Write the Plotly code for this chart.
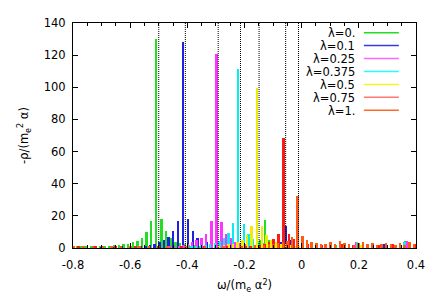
import plotly.graph_objects as go

# ---------------- data ----------------
series_names = ["λ=0.", "λ=0.1", "λ=0.25", "λ=0.375", "λ=0.5", "λ=0.75", "λ=1."]
series_colors = ["#22dd22", "#2020e0", "#ff33ff", "#00f0f0", "#eeee00", "#ff1a1a", "#ff5a14"]
legend_colors = ["#22dd22", "#3a3ad8", "#ff66ff", "#22ffff", "#f5f522", "#ff7777", "#ff6a2a"]

# lobe centres (omega) and lobe heights (-rho)
w_l0 = [-0.799, -0.785, -0.769, -0.753, -0.736, -0.720, -0.704, -0.688, -0.671, -0.655,
        -0.639, -0.623, -0.606, -0.590, -0.574, -0.558, -0.542, -0.526, -0.508, -0.490,
        -0.474, -0.458, -0.441, -0.425, -0.409, -0.393, -0.376, -0.360, -0.344,
        -0.145, -0.128, -0.112, 0.120, 0.250, 0.364]
h_l0 = [0.8, 0.8, 0.9, 1.0, 1.0, 1.1, 1.2, 1.3, 1.5, 1.7,
        2.0, 2.3, 2.8, 3.5, 4.6, 6.4, 10.0, 17.0, 130.0, 18.0,
        10.5, 6.0, 4.0, 3.0, 2.5, 2.0, 1.8, 1.5, 1.3,
        5.0, 17.5, 5.0, 2.0, 2.5, 4.5]

w_l1 = [-0.700, -0.660, -0.630, -0.600, -0.579, -0.562, -0.546, -0.530, -0.514, -0.497,
        -0.481, -0.465, -0.449, -0.432, -0.414, -0.396, -0.380, -0.363, -0.347, -0.331,
        -0.315, -0.298, -0.282, -0.266, -0.070, -0.054, -0.038, 0.150, 0.290, 0.330]
h_l1 = [0.5, 0.6, 0.7, 0.8, 1.0, 1.2, 1.4, 1.8, 2.5, 3.8,
        5.0, 7.0, 10.5, 17.0, 128.4, 18.0, 10.5, 6.5, 5.0, 3.5,
        2.8, 2.2, 1.8, 1.5, 4.0, 14.0, 5.0, 2.0, 2.5, 2.0]

w_l2 = [-0.460, -0.445, -0.429, -0.412, -0.396, -0.383, -0.367, -0.350, -0.333, -0.315,
        -0.297, -0.279, -0.263, -0.247, -0.230, -0.214, -0.198, -0.182, -0.165, -0.149,
        0.190, 0.250, 0.370]
h_l2 = [1.0, 1.2, 1.5, 1.8, 2.2, 3.5, 5.0, 6.0, 9.0, 17.0,
        120.5, 16.0, 9.0, 6.0, 4.0, 3.0, 2.5, 2.0, 1.7, 1.4,
        4.0, 3.0, 4.5]

w_l3 = [-0.385, -0.368, -0.352, -0.336, -0.320, -0.303, -0.287, -0.271, -0.255, -0.239,
        -0.221, -0.201, -0.185, -0.169, -0.152, -0.136, -0.120, -0.104, -0.087, -0.071,
        0.195, 0.360]
h_l3 = [1.1, 1.3, 1.6, 2.0, 2.6, 3.3, 4.5, 6.0, 9.5, 15.5,
        111.5, 15.0, 8.5, 5.5, 4.0, 3.0, 2.4, 2.0, 1.7, 1.4,
        4.0, 4.0]

w_l4 = [-0.288, -0.271, -0.255, -0.239, -0.223, -0.206, -0.190, -0.174, -0.156, -0.138,
        -0.122, -0.106, -0.089, -0.073, -0.057, -0.040, -0.024, -0.008, 0.210, 0.300]
h_l4 = [1.5, 1.8, 2.2, 2.7, 3.5, 5.0, 8.0, 14.0, 99.8, 14.0,
        8.0, 5.0, 3.5, 2.7, 2.2, 1.8, 1.5, 1.3, 2.0, 2.0]

w_l5 = [-0.780, -0.720, -0.650, -0.580, -0.500, -0.420, -0.340, -0.260, -0.210, -0.194,
        -0.178, -0.162, -0.145, -0.129, -0.113, -0.097, -0.080, -0.062, -0.044, -0.028,
        -0.011, 0.005, 0.021, 0.037, 0.054, 0.070, 0.100, 0.140, 0.180, 0.230,
        0.270, 0.320, 0.360, 0.395]
h_l5 = [0.8, 0.8, 0.9, 0.9, 1.0, 1.0, 1.0, 1.0, 1.0, 1.2,
        1.3, 1.6, 2.0, 2.5, 3.5, 5.5, 9.0, 68.2, 8.5, 5.5,
        3.5, 2.8, 2.3, 2.0, 1.8, 1.6, 2.0, 2.5, 2.0, 2.5,
        2.0, 2.5, 2.0, 2.5]

w_l6 = [-0.795, -0.762, -0.729, -0.696, -0.664, -0.631, -0.598, -0.566, -0.533, -0.468,
        -0.403, -0.338, -0.273, -0.208, -0.162, -0.130, -0.113, -0.097, -0.081, -0.064,
        -0.048, -0.032, -0.014, 0.004, 0.020, 0.036, 0.053, 0.069, 0.085, 0.101,
        0.118, 0.134, 0.150, 0.166, 0.183, 0.199, 0.215, 0.231, 0.248, 0.264,
        0.280, 0.296, 0.313, 0.329, 0.345, 0.361, 0.378, 0.394]
h_l6 = [1.0, 1.0, 1.0, 1.0, 1.0, 1.0, 1.0, 1.0, 1.0, 1.0,
        1.1, 1.2, 1.3, 1.5, 1.8, 2.0, 2.2, 2.5, 3.0, 3.5,
        4.5, 7.0, 32.4, 7.4, 5.0, 3.5, 3.0, 2.5, 2.5, 4.0,
        2.5, 4.2, 3.0, 2.5, 2.0, 3.0, 3.5, 2.5, 3.0, 2.0,
        2.5, 3.0, 2.5, 2.0, 3.0, 2.0, 3.5, 2.5]

series_w = [w_l0, w_l1, w_l2, w_l3, w_l4, w_l5, w_l6]
series_h = [h_l0, h_l1, h_l2, h_l3, h_l4, h_l5, h_l6]

# dotted reference energies
ref_energies = [-0.500, -0.407, -0.292, -0.214, -0.149, -0.056, -0.011]

x_ticks = [-0.8, -0.6, -0.4, -0.2, 0.0, 0.2, 0.4]
x_ticktext = ["-0.8", "-0.6", "-0.4", "-0.2", "0", "0.2", "0.4"]
y_ticks = [0, 20, 40, 60, 80, 100, 120, 140]
y_ticktext = ["0", "20", "40", "60", "80", "100", "120", "140"]

# ---------------- figure ----------------
FONT = "DejaVu Sans, Verdana, sans-serif"
FS = 11.5
fig = go.Figure()

for name, col, w, h in zip(series_names, series_colors, series_w, series_h):
    fig.add_trace(go.Bar(x=w, y=h, name=name, width=0.0068,
                         marker=dict(color=col, line=dict(width=0)),
                         showlegend=False))

for e in ref_energies:
    fig.add_shape(type="line", xref="x", yref="y", x0=e, x1=e, y0=0, y1=140,
                  line=dict(color="black", width=1, dash="1px,1px"), layer="above")

# manual gnuplot-style key: text then line sample
key_top = 0.957
key_step = 0.0575
for i, (name, col) in enumerate(zip(series_names, legend_colors)):
    yy = key_top - i * key_step
    fig.add_annotation(xref="paper", yref="paper", x=0.826, y=yy, text=name,
                       showarrow=False, xanchor="right", yanchor="middle",
                       height=13, borderpad=0,
                       font=dict(family=FONT, size=FS, color="black"))
    fig.add_shape(type="line", xref="paper", yref="paper", x0=0.848, x1=0.950,
                  y0=yy, y1=yy, line=dict(color=col, width=1.5))

fig.update_layout(
    width=436, height=305,
    margin=dict(l=65, r=28, t=8, b=65),
    paper_bgcolor="white", plot_bgcolor="white",
    barmode="overlay", bargap=0,
    font=dict(family=FONT, size=FS, color="black"),
    showlegend=False,
)
fig.update_xaxes(
    range=[-0.8, 0.4], tickvals=x_ticks, ticktext=x_ticktext,
    ticks="inside", ticklen=5, tickcolor="black", mirror="allticks",
    ticklabelstandoff=6,
    showline=True, linecolor="black", linewidth=1, showgrid=False, zeroline=False,
    minor=dict(dtick=0.05, ticks="inside", ticklen=3, tickcolor="black", showgrid=False),
    title=dict(text="ω/(m<sub>e</sub> α<sup>2</sup>)", standoff=10,
               font=dict(family=FONT, size=FS)),
)
fig.update_yaxes(
    range=[0, 140], tickvals=y_ticks, ticktext=y_ticktext,
    ticks="inside", ticklen=5, tickcolor="black", mirror="allticks",
    ticklabelstandoff=4,
    showline=True, linecolor="black", linewidth=1, showgrid=False, zeroline=False,
    title=dict(text="-ρ/(m<sub>e</sub><sup>2</sup> α)", standoff=12,
               font=dict(family=FONT, size=FS)),
)

fig.write_html("out.html")
